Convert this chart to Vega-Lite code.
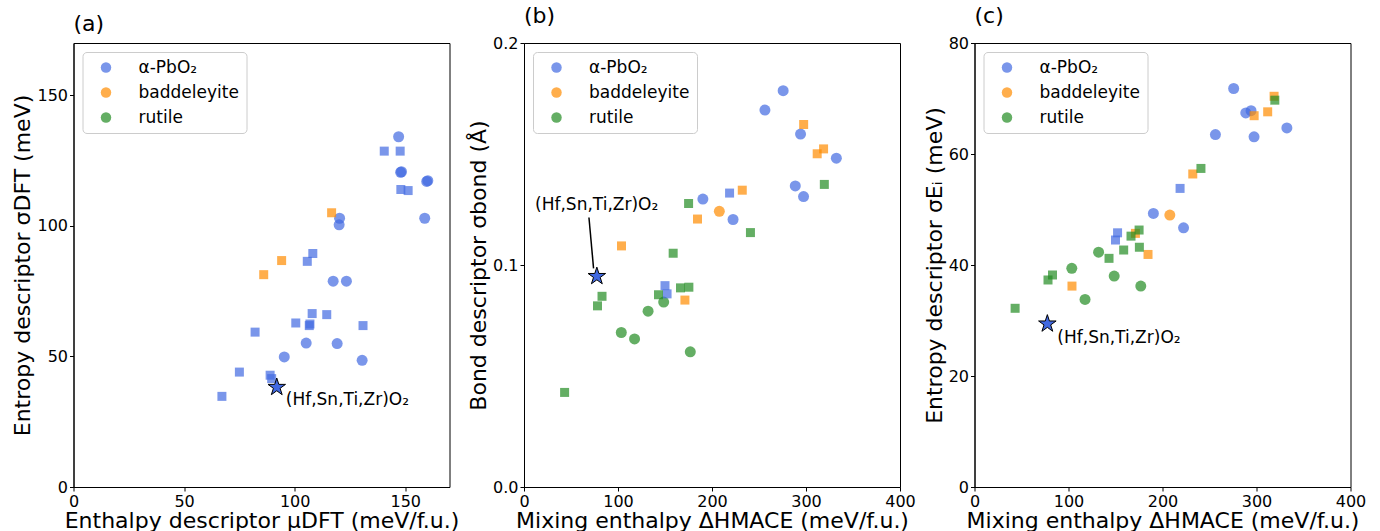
{
  "$schema": "https://vega.github.io/schema/vega-lite/v6.json",
  "background": "white",
  "padding": {"left": 10.5, "top": 4, "right": 5, "bottom": 5},
  "config": {
    "font": "DejaVu Sans",
    "view": {"stroke": "black", "strokeWidth": 1},
    "axis": {
      "domainColor": "black", "domainWidth": 1, "tickColor": "black", "tickSize": 4, "tickWidth": 1,
      "labelFontSize": 16, "labelColor": "black", "labelPadding": 2, "labelFont": "DejaVu Sans",
      "titleFontSize": 22, "titleFontWeight": "normal", "titleColor": "black", "titleFont": "DejaVu Sans",
      "grid": false, "labelFlush": false, "labelOverlap": false
    },
    "axisX": {"titlePadding": 1},
    "axisY": {"titlePadding": 2},
    "legend": {
      "orient": "top-left", "offset": 9, "padding": 7, "symbolOffset": 8, "labelOffset": 24,
      "rowPadding": 7, "labelFontSize": 17, "labelColor": "black", "labelFont": "DejaVu Sans",
      "symbolType": "circle", "symbolSize": 110, "symbolOpacity": 0.7, "symbolStrokeWidth": 0,
      "strokeColor": "#cccccc", "fillColor": "rgba(255,255,255,0.8)", "cornerRadius": 4
    },
    "title": {"fontSize": 22, "fontWeight": "normal", "anchor": "start", "frame": "group", "offset": 7, "baseline": "alphabetic", "color": "black", "font": "DejaVu Sans"}
  },
  "datasets": {
    "dft": [
      {"mu": 147.0, "sigma": 134.1, "structure": "α-PbO₂", "set": "A"},
      {"mu": 147.9, "sigma": 120.5, "structure": "α-PbO₂", "set": "A"},
      {"mu": 148.3, "sigma": 120.7, "structure": "α-PbO₂", "set": "A"},
      {"mu": 159.7, "sigma": 117.0, "structure": "α-PbO₂", "set": "A"},
      {"mu": 160.2, "sigma": 117.3, "structure": "α-PbO₂", "set": "A"},
      {"mu": 158.8, "sigma": 102.9, "structure": "α-PbO₂", "set": "A"},
      {"mu": 120.3, "sigma": 102.9, "structure": "α-PbO₂", "set": "A"},
      {"mu": 120.1, "sigma": 100.4, "structure": "α-PbO₂", "set": "A"},
      {"mu": 117.4, "sigma": 78.8, "structure": "α-PbO₂", "set": "A"},
      {"mu": 123.4, "sigma": 78.8, "structure": "α-PbO₂", "set": "A"},
      {"mu": 105.2, "sigma": 55.1, "structure": "α-PbO₂", "set": "A"},
      {"mu": 119.2, "sigma": 54.9, "structure": "α-PbO₂", "set": "A"},
      {"mu": 95.3, "sigma": 49.8, "structure": "α-PbO₂", "set": "A"},
      {"mu": 130.5, "sigma": 48.5, "structure": "α-PbO₂", "set": "A"},
      {"mu": 140.5, "sigma": 128.6, "structure": "α-PbO₂", "set": "B"},
      {"mu": 147.7, "sigma": 128.6, "structure": "α-PbO₂", "set": "B"},
      {"mu": 148.0, "sigma": 113.9, "structure": "α-PbO₂", "set": "B"},
      {"mu": 151.3, "sigma": 113.5, "structure": "α-PbO₂", "set": "B"},
      {"mu": 108.2, "sigma": 89.4, "structure": "α-PbO₂", "set": "B"},
      {"mu": 105.7, "sigma": 86.4, "structure": "α-PbO₂", "set": "B"},
      {"mu": 107.9, "sigma": 66.4, "structure": "α-PbO₂", "set": "B"},
      {"mu": 114.5, "sigma": 66.0, "structure": "α-PbO₂", "set": "B"},
      {"mu": 100.5, "sigma": 62.8, "structure": "α-PbO₂", "set": "B"},
      {"mu": 106.6, "sigma": 61.8, "structure": "α-PbO₂", "set": "B"},
      {"mu": 106.9, "sigma": 62.4, "structure": "α-PbO₂", "set": "B"},
      {"mu": 130.9, "sigma": 61.8, "structure": "α-PbO₂", "set": "B"},
      {"mu": 82.1, "sigma": 59.3, "structure": "α-PbO₂", "set": "B"},
      {"mu": 75.0, "sigma": 44.0, "structure": "α-PbO₂", "set": "B"},
      {"mu": 88.9, "sigma": 42.8, "structure": "α-PbO₂", "set": "B"},
      {"mu": 89.6, "sigma": 41.5, "structure": "α-PbO₂", "set": "B"},
      {"mu": 67.1, "sigma": 34.7, "structure": "α-PbO₂", "set": "B"},
      {"mu": 116.7, "sigma": 105.0, "structure": "baddeleyite", "set": "B"},
      {"mu": 94.1, "sigma": 86.7, "structure": "baddeleyite", "set": "B"},
      {"mu": 86.0, "sigma": 81.3, "structure": "baddeleyite", "set": "B"}
    ],
    "mace": [
      {"dH": 275.7, "bond": 0.1785, "entropy": 71.8, "structure": "α-PbO₂", "set": "A"},
      {"dH": 256.3, "bond": 0.1698, "entropy": 63.5, "structure": "α-PbO₂", "set": "A"},
      {"dH": 294.2, "bond": 0.1590, "entropy": 67.8, "structure": "α-PbO₂", "set": "A"},
      {"dH": 332.3, "bond": 0.1481, "entropy": 64.7, "structure": "α-PbO₂", "set": "A"},
      {"dH": 288.6, "bond": 0.1356, "entropy": 67.4, "structure": "α-PbO₂", "set": "A"},
      {"dH": 297.4, "bond": 0.1308, "entropy": 63.1, "structure": "α-PbO₂", "set": "A"},
      {"dH": 190.3, "bond": 0.1297, "entropy": 49.3, "structure": "α-PbO₂", "set": "A"},
      {"dH": 222.4, "bond": 0.1205, "entropy": 46.7, "structure": "α-PbO₂", "set": "A"},
      {"dH": 207.8, "bond": 0.1242, "entropy": 49.0, "structure": "baddeleyite", "set": "A"},
      {"dH": 132.0, "bond": 0.0792, "entropy": 42.3, "structure": "rutile", "set": "A"},
      {"dH": 148.6, "bond": 0.0833, "entropy": 38.0, "structure": "rutile", "set": "A"},
      {"dH": 103.5, "bond": 0.0696, "entropy": 39.4, "structure": "rutile", "set": "A"},
      {"dH": 117.6, "bond": 0.0667, "entropy": 33.8, "structure": "rutile", "set": "A"},
      {"dH": 176.9, "bond": 0.0609, "entropy": 36.2, "structure": "rutile", "set": "A"},
      {"dH": 218.7, "bond": 0.1324, "entropy": 53.8, "structure": "α-PbO₂", "set": "B"},
      {"dH": 150.0, "bond": 0.0907, "entropy": 44.5, "structure": "α-PbO₂", "set": "B"},
      {"dH": 152.2, "bond": 0.0870, "entropy": 45.8, "structure": "α-PbO₂", "set": "B"},
      {"dH": 297.5, "bond": 0.1633, "entropy": 66.9, "structure": "baddeleyite", "set": "B"},
      {"dH": 318.7, "bond": 0.1523, "entropy": 70.4, "structure": "baddeleyite", "set": "B"},
      {"dH": 311.9, "bond": 0.1501, "entropy": 67.6, "structure": "baddeleyite", "set": "B"},
      {"dH": 232.2, "bond": 0.1337, "entropy": 56.4, "structure": "baddeleyite", "set": "B"},
      {"dH": 184.6, "bond": 0.1207, "entropy": 41.9, "structure": "baddeleyite", "set": "B"},
      {"dH": 103.7, "bond": 0.1086, "entropy": 36.2, "structure": "baddeleyite", "set": "B"},
      {"dH": 171.2, "bond": 0.0842, "entropy": 45.7, "structure": "baddeleyite", "set": "B"},
      {"dH": 319.5, "bond": 0.1363, "entropy": 69.7, "structure": "rutile", "set": "B"},
      {"dH": 175.1, "bond": 0.1277, "entropy": 46.3, "structure": "rutile", "set": "B"},
      {"dH": 175.4, "bond": 0.0900, "entropy": 43.2, "structure": "rutile", "set": "B"},
      {"dH": 240.9, "bond": 0.1146, "entropy": 57.4, "structure": "rutile", "set": "B"},
      {"dH": 158.7, "bond": 0.1053, "entropy": 42.7, "structure": "rutile", "set": "B"},
      {"dH": 166.5, "bond": 0.0897, "entropy": 45.2, "structure": "rutile", "set": "B"},
      {"dH": 143.1, "bond": 0.0866, "entropy": 41.2, "structure": "rutile", "set": "B"},
      {"dH": 83.0, "bond": 0.0859, "entropy": 38.2, "structure": "rutile", "set": "B"},
      {"dH": 78.2, "bond": 0.0816, "entropy": 37.3, "structure": "rutile", "set": "B"},
      {"dH": 43.2, "bond": 0.0426, "entropy": 32.2, "structure": "rutile", "set": "B"}
    ],
    "star": [
      {"mu": 91.9, "sigma": 38.2, "dH": 77.5, "bond": 0.0949, "entropy": 29.4, "label": "(Hf,Sn,Ti,Zr)O₂",
       "labelDH": 77.3, "labelBond": 0.1271, "lineDH": 69.1, "lineBond": 0.1214, "lineDH2": 74.0, "lineBond2": 0.0985}
    ]
  },
  "bounds": "flush",
  "spacing": 74.5,
  "resolve": {"scale": {"color": "independent", "shape": "independent", "size": "independent"}, "legend": {"color": "independent"}},
  "hconcat": [
    {
      "width": 376, "height": 444,
      "title": {"text": "(a)"},
      "layer": [
        {
          "data": {"name": "dft"},
          "mark": {"type": "point", "filled": true, "opacity": 0.7, "strokeWidth": 0},
          "encoding": {
            "x": {"field": "mu", "type": "quantitative", "scale": {"domain": [0, 170], "nice": false, "zero": true},
                  "axis": {"values": [0, 50, 100, 150], "title": "Enthalpy descriptor μDFT (meV/f.u.)"}},
            "y": {"field": "sigma", "type": "quantitative", "scale": {"domain": [0, 170], "nice": false, "zero": true},
                  "axis": {"values": [0, 50, 100, 150], "title": "Entropy descriptor σDFT (meV)"}},
            "color": {"field": "structure", "type": "nominal",
                      "scale": {"domain": ["α-PbO₂", "baddeleyite", "rutile"], "range": ["#4169e1", "#ff8c00", "#228b22"]},
                      "legend": {"title": null}},
            "shape": {"field": "set", "type": "nominal", "scale": {"domain": ["A", "B"], "range": ["circle", "square"]}, "legend": null},
            "size": {"field": "set", "type": "nominal", "scale": {"domain": ["A", "B"], "range": [121, 81]}, "legend": null}
          }
        },
        {
          "data": {"name": "star"},
          "mark": {"type": "point", "filled": true, "fill": "#4169e1", "stroke": "black", "strokeWidth": 1, "opacity": 1,
                   "size": 340, "shape": "M0,-1L0.2245,-0.309L0.951,-0.309L0.363,0.118L0.588,0.809L0,0.382L-0.588,0.809L-0.363,0.118L-0.951,-0.309L-0.2245,-0.309Z"},
          "encoding": {
            "x": {"field": "mu", "type": "quantitative"},
            "y": {"field": "sigma", "type": "quantitative"}
          }
        },
        {
          "data": {"name": "star"},
          "mark": {"type": "text", "align": "left", "baseline": "middle", "dx": 9, "dy": 13, "fontSize": 17, "font": "DejaVu Sans", "color": "black"},
          "encoding": {
            "x": {"field": "mu", "type": "quantitative"},
            "y": {"field": "sigma", "type": "quantitative"},
            "text": {"field": "label"}
          }
        }
      ]
    },
    {
      "width": 376, "height": 444,
      "title": {"text": "(b)"},
      "layer": [
        {
          "data": {"name": "mace"},
          "mark": {"type": "point", "filled": true, "opacity": 0.7, "strokeWidth": 0},
          "encoding": {
            "x": {"field": "dH", "type": "quantitative", "scale": {"domain": [0, 400], "nice": false, "zero": true},
                  "axis": {"values": [0, 100, 200, 300, 400], "title": "Mixing enthalpy ΔHMACE (meV/f.u.)"}},
            "y": {"field": "bond", "type": "quantitative", "scale": {"domain": [0, 0.2], "nice": false, "zero": true},
                  "axis": {"values": [0, 0.1, 0.2], "format": ".1f", "title": "Bond descriptor σbond (Å)"}},
            "color": {"field": "structure", "type": "nominal",
                      "scale": {"domain": ["α-PbO₂", "baddeleyite", "rutile"], "range": ["#4169e1", "#ff8c00", "#228b22"]},
                      "legend": {"title": null}},
            "shape": {"field": "set", "type": "nominal", "scale": {"domain": ["A", "B"], "range": ["circle", "square"]}, "legend": null},
            "size": {"field": "set", "type": "nominal", "scale": {"domain": ["A", "B"], "range": [121, 81]}, "legend": null}
          }
        },
        {
          "data": {"name": "star"},
          "mark": {"type": "rule", "color": "black", "strokeWidth": 1.5},
          "encoding": {
            "x": {"field": "lineDH", "type": "quantitative"},
            "y": {"field": "lineBond", "type": "quantitative"},
            "x2": {"field": "lineDH2"},
            "y2": {"field": "lineBond2"}
          }
        },
        {
          "data": {"name": "star"},
          "mark": {"type": "point", "filled": true, "fill": "#4169e1", "stroke": "black", "strokeWidth": 1, "opacity": 1,
                   "size": 340, "shape": "M0,-1L0.2245,-0.309L0.951,-0.309L0.363,0.118L0.588,0.809L0,0.382L-0.588,0.809L-0.363,0.118L-0.951,-0.309L-0.2245,-0.309Z"},
          "encoding": {
            "x": {"field": "dH", "type": "quantitative"},
            "y": {"field": "bond", "type": "quantitative"}
          }
        },
        {
          "data": {"name": "star"},
          "mark": {"type": "text", "align": "center", "baseline": "middle", "fontSize": 17, "font": "DejaVu Sans", "color": "black"},
          "encoding": {
            "x": {"field": "labelDH", "type": "quantitative"},
            "y": {"field": "labelBond", "type": "quantitative"},
            "text": {"field": "label"}
          }
        }
      ]
    },
    {
      "width": 376, "height": 444,
      "title": {"text": "(c)"},
      "layer": [
        {
          "data": {"name": "mace"},
          "mark": {"type": "point", "filled": true, "opacity": 0.7, "strokeWidth": 0},
          "encoding": {
            "x": {"field": "dH", "type": "quantitative", "scale": {"domain": [0, 400], "nice": false, "zero": true},
                  "axis": {"values": [0, 100, 200, 300, 400], "title": "Mixing enthalpy ΔHMACE (meV/f.u.)"}},
            "y": {"field": "entropy", "type": "quantitative", "scale": {"domain": [0, 80], "nice": false, "zero": true},
                  "axis": {"values": [0, 20, 40, 60, 80], "title": "Entropy descriptor σEᵢ (meV)"}},
            "color": {"field": "structure", "type": "nominal",
                      "scale": {"domain": ["α-PbO₂", "baddeleyite", "rutile"], "range": ["#4169e1", "#ff8c00", "#228b22"]},
                      "legend": {"title": null}},
            "shape": {"field": "set", "type": "nominal", "scale": {"domain": ["A", "B"], "range": ["circle", "square"]}, "legend": null},
            "size": {"field": "set", "type": "nominal", "scale": {"domain": ["A", "B"], "range": [121, 81]}, "legend": null}
          }
        },
        {
          "data": {"name": "star"},
          "mark": {"type": "point", "filled": true, "fill": "#4169e1", "stroke": "black", "strokeWidth": 1, "opacity": 1,
                   "size": 340, "shape": "M0,-1L0.2245,-0.309L0.951,-0.309L0.363,0.118L0.588,0.809L0,0.382L-0.588,0.809L-0.363,0.118L-0.951,-0.309L-0.2245,-0.309Z"},
          "encoding": {
            "x": {"field": "dH", "type": "quantitative"},
            "y": {"field": "entropy", "type": "quantitative"}
          }
        },
        {
          "data": {"name": "star"},
          "mark": {"type": "text", "align": "left", "baseline": "middle", "dx": 10, "dy": 14, "fontSize": 17, "font": "DejaVu Sans", "color": "black"},
          "encoding": {
            "x": {"field": "dH", "type": "quantitative"},
            "y": {"field": "entropy", "type": "quantitative"},
            "text": {"field": "label"}
          }
        }
      ]
    }
  ]
}
